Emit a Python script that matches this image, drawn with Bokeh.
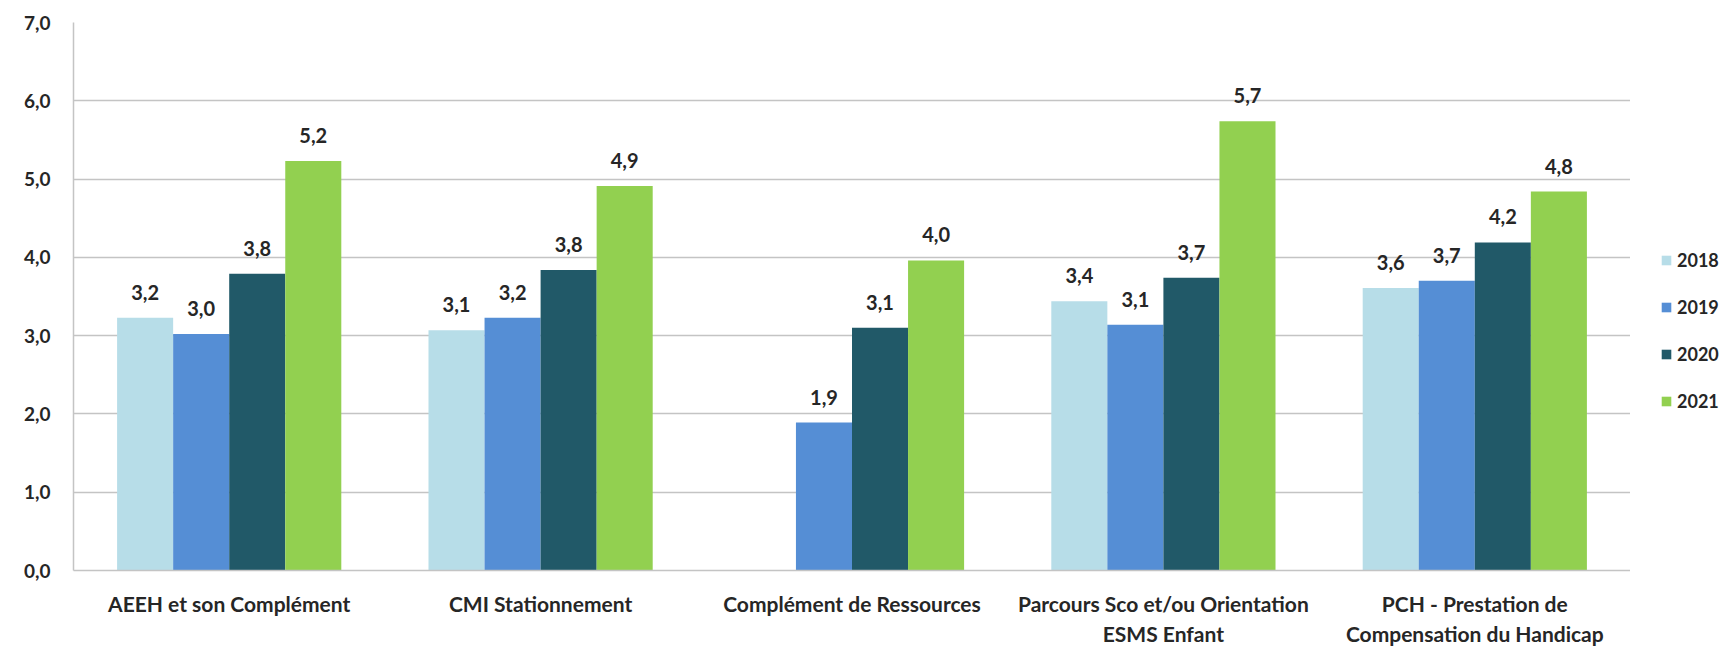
import math
from bokeh.plotting import figure
from bokeh.layouts import row
from bokeh.models import (ColumnDataSource, FactorRange, LabelSet, Legend, LegendItem,
                          FixedTicker)
from bokeh.transform import dodge
from bokeh.core.properties import value
from bokeh.embed import file_html
from bokeh.resources import INLINE

categories = [
    "AEEH et son Complément",
    "CMI Stationnement",
    "Complément de Ressources",
    "Parcours Sco et/ou Orientation\nESMS Enfant",
    "PCH - Prestation de\nCompensation du Handicap",
]
years = ["2018", "2019", "2020", "2021"]
v2018 = [3.23, 3.07, float("nan"), 3.44, 3.61]
v2019 = [3.02, 3.23, 1.89, 3.14, 3.70]
v2020 = [3.79, 3.84, 3.10, 3.74, 4.19]
v2021 = [5.23, 4.91, 3.96, 5.74, 4.84]
series = [v2018, v2019, v2020, v2021]
colors = ["#B7DDE8", "#558ED5", "#215968", "#92D050"]
y_ticks = [0, 1, 2, 3, 4, 5, 6, 7]

FONT = "Lato"
TXT = "#262626"
GRID = "#C4C4C4"

p = figure(x_range=FactorRange(*categories), y_range=(0, 7),
           width=1630, height=648, output_backend="svg", toolbar_location=None,
           min_border_left=73, min_border_right=0, min_border_top=22, min_border_bottom=78)
p.outline_line_color = None
p.xgrid.grid_line_color = None
p.ygrid.grid_line_color = GRID
p.ygrid.grid_line_width = 1.5
p.ygrid.ticker = FixedTicker(ticks=y_ticks)

offsets = [-0.27, -0.09, 0.09, 0.27]
for yr, vals, col, off in zip(years, series, colors, offsets):
    labels = ["" if math.isnan(v) else f"{v:.1f}".replace(".", ",") for v in vals]
    src = ColumnDataSource(dict(cat=categories, val=vals, lab=labels))
    p.vbar(x=dodge("cat", off, range=p.x_range), top="val", width=0.18,
           source=src, fill_color=col, line_color=None)
    ls = LabelSet(x=dodge("cat", off, range=p.x_range), y="val", text="lab", source=src,
                  text_align="center", text_baseline="alphabetic", y_offset=18,
                  text_font=value(FONT), text_font_style="bold", text_font_size="20px",
                  text_color=TXT)
    p.add_layout(ls)

# axes
p.yaxis.ticker = FixedTicker(ticks=y_ticks)
p.yaxis.major_label_overrides = {t: f"{t},0" for t in y_ticks}
for ax in (p.xaxis[0], p.yaxis[0]):
    ax.axis_line_color = GRID
    ax.axis_line_width = 1.5
    ax.major_tick_line_color = None
    ax.minor_tick_line_color = None
    ax.major_label_text_font = FONT
    ax.major_label_text_font_style = "bold"
    ax.major_label_text_color = TXT
p.yaxis.major_label_text_font_size = "19px"
p.xaxis.major_label_text_font_size = "21px"
p.yaxis.major_label_standoff = 17
p.xaxis.major_label_standoff = 14

# legend panel (separate small figure to the right of the plot area)
lg = figure(width=89, height=648, output_backend="svg", toolbar_location=None,
            min_border_left=0, min_border_right=0, min_border_top=0, min_border_bottom=0,
            x_range=(0, 1), y_range=(0, 1))
lg.axis.visible = False
lg.grid.visible = False
lg.outline_line_color = None
items = []
for yr, col in zip(years, colors):
    # zero-size proxy glyph: only its swatch is shown in the legend
    r = lg.vbar(x=[0], top=[0], bottom=[0], width=0, fill_color=col, line_color=None)
    items.append(LegendItem(label=yr, renderers=[r]))
legend = Legend(items=items, location=(30, 158), orientation="vertical",
                glyph_width=12, glyph_height=12, label_height=23, spacing=24,
                padding=0, margin=0, border_line_color=None, background_fill_alpha=0,
                label_text_font=FONT, label_text_font_style="bold",
                label_text_font_size="18px", label_text_color=TXT, label_standoff=5)
lg.add_layout(legend, "center")

layout = row(p, lg)
open("out.html", "w").write(file_html(layout, INLINE))
